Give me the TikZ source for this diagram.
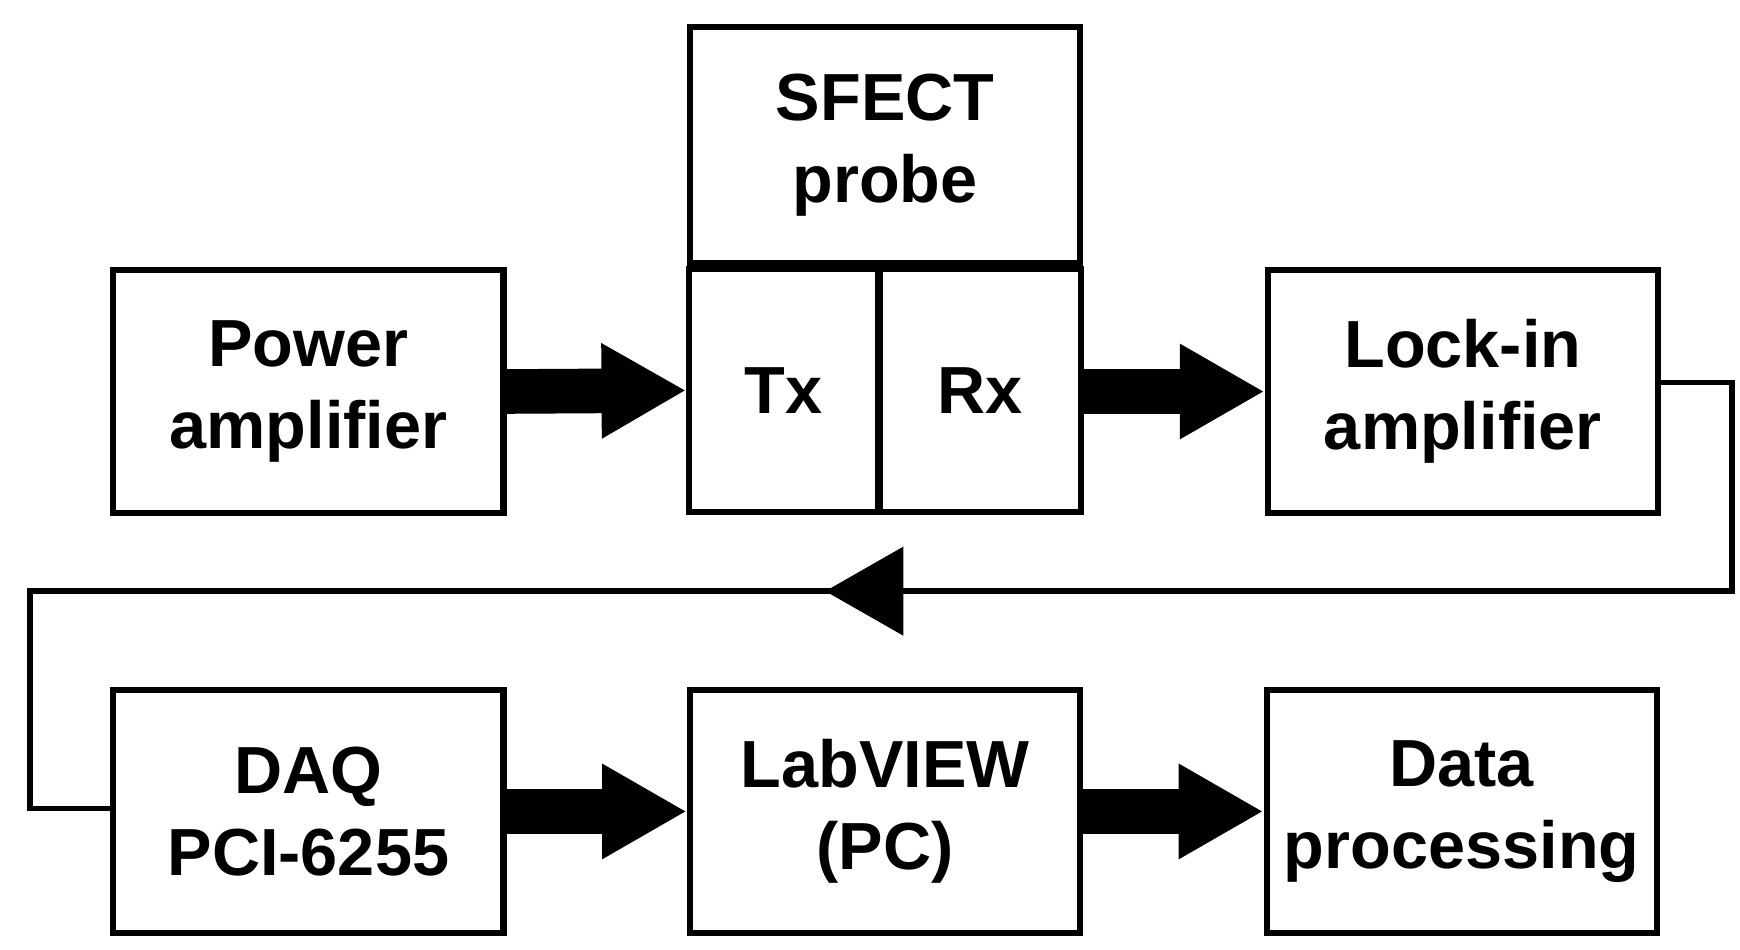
\documentclass[tikz,border=0pt]{standalone}
\usepackage{fontspec}
\setmainfont{Liberation Sans}
\usetikzlibrary{arrows.meta}
\begin{document}
\begin{tikzpicture}[x=0.02cm,y=-0.02cm,
  box/.style={draw,line width=0.11cm,minimum width=7.0cm,minimum height=4.35cm,align=center,font=\fontsize{34}{42}\selectfont\bfseries,inner sep=0pt},
  fat/.style={line width=0.8cm,-{Triangle[length=1.52cm,width=1.6cm]},shorten >=0pt},
  thin/.style={line width=0.1cm}]
\useasboundingbox (0,0) rectangle (1560,851);
\node[box] (pa) at (276.5,351) {Power\\amplifier};
\node[box,minimum height=4.22cm] (sf) at (793.5,130) {SFECT\\probe};
\node[box,minimum width=3.38cm] (tx) at (702.5,350) {Tx};
\node[box,minimum width=3.6cm] (rx) at (879,350) {Rx};
\node[box] (li) at (1311.5,351) {Lock-in\\amplifier};
\node[box] (daq) at (276.5,727.5) {DAQ\\PCI-6255};
\node[box] (lv) at (793.5,727.5) {LabVIEW\\(PC)};
\node[box] (dp) at (1310.5,727.5) {Data\\processing};
\draw[fat] (pa.east) -- (tx.west);
\draw[fat] (rx.east|-pa.east) -- (li.west);
\draw[fat] (daq.east) -- (lv.west);
\draw[fat] (lv.east) -- (dp.west);
\coordinate (c1) at (1553,343);
\coordinate (c2) at (1553,530);
\coordinate (c3) at (27,530);
\coordinate (c4) at (27,725);
\draw[thin] (li.east|-c1) -- (c1) -- (c2) -- (c3) -- (c4) -- (daq.west|-c4);
\fill (740,530) -- (810,490) -- (810,570) -- cycle;
\end{tikzpicture}
\end{document}
